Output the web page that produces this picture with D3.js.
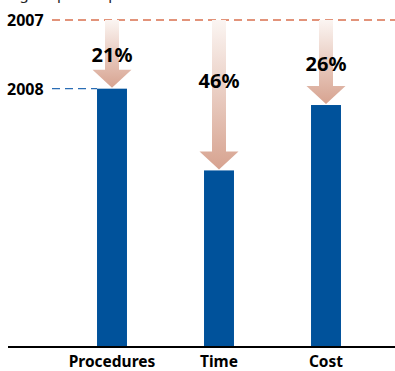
<!DOCTYPE html>
<html>
<head>
<meta charset="utf-8">
<script src="https://cdn.jsdelivr.net/npm/d3@7"></script>
<style>
  body { margin: 0; background: #fff; }
  svg { display: block; font-family: "Noto Sans", "Open Sans", sans-serif; }
</style>
</head>
<body>
<svg id="chart" width="395" height="371"></svg>
<script>
// chart values (2007 = 100)
const categories = ["Procedures", "Time", "Cost"];
const values2008 = [79, 54, 74];
const dropLabels = ["21%", "46%", "26%"];
const yearLabels = ["2007", "2008"];
const baseValue = 100;

let svg = d3.select("#chart");

let xScale = d3.scaleBand()
    .domain(categories)
    .range([58.5, 379.5])
    .paddingInner(0.72)
    .paddingOuter(0.36);

let yScale = d3.scaleLinear()
    .domain([0, baseValue])
    .range([347, 20]);

// gradient for the arrows
let defs = svg.append("defs");
let grad = defs.append("linearGradient")
    .attr("id", "arrowGrad")
    .attr("x1", 0).attr("y1", 0)
    .attr("x2", 0).attr("y2", 1);
grad.append("stop").attr("offset", "0%").attr("stop-color", "#fbf5f2");
grad.append("stop").attr("offset", "100%").attr("stop-color", "#d7a390");

// cut off title at the top
svg.append("text")
    .attr("x", 6)
    .attr("y", -1)
    .attr("font-size", 15)
    .attr("fill", "#222")
    .text("Big drop in steps and cost");

// 2007 reference line
svg.append("line")
    .attr("x1", 52).attr("x2", 395)
    .attr("y1", yScale(baseValue)).attr("y2", yScale(baseValue))
    .attr("stroke", "#d9704f")
    .attr("stroke-width", 1.3)
    .attr("stroke-dasharray", "8,5");

svg.append("text")
    .attr("x", 7)
    .attr("y", yScale(baseValue) + 6)
    .attr("font-size", 16)
    .attr("font-weight", "bold")
    .text(yearLabels[0]);

// 2008 reference (first bar)
svg.append("line")
    .attr("x1", 52).attr("x2", xScale(categories[0]))
    .attr("y1", yScale(values2008[0])).attr("y2", yScale(values2008[0]))
    .attr("stroke", "#2a6db5")
    .attr("stroke-width", 1.3)
    .attr("stroke-dasharray", "8,5");

svg.append("text")
    .attr("x", 7)
    .attr("y", yScale(values2008[0]) + 6)
    .attr("font-size", 16)
    .attr("font-weight", "bold")
    .text(yearLabels[1]);

// bars
svg.selectAll("rect.bar")
    .data(values2008)
    .enter().append("rect")
    .attr("class", "bar")
    .attr("x", (d, i) => xScale(categories[i]))
    .attr("y", d => yScale(d))
    .attr("width", xScale.bandwidth())
    .attr("height", d => yScale(0) - yScale(d))
    .attr("fill", "#00529b");

// arrows
let shaft = 7, head = 19.5, headH = 18;
svg.selectAll("path.arrow")
    .data(values2008)
    .enter().append("path")
    .attr("class", "arrow")
    .attr("fill", "url(#arrowGrad)")
    .attr("d", function(d, i) {
        let cx = xScale(categories[i]) + xScale.bandwidth() / 2;
        let top = yScale(baseValue);
        let tip = yScale(d) - 1;
        let hy = tip - headH;
        return "M" + (cx - shaft) + "," + top +
            "L" + (cx + shaft) + "," + top +
            "L" + (cx + shaft) + "," + hy +
            "L" + (cx + head) + "," + hy +
            "L" + cx + "," + tip +
            "L" + (cx - head) + "," + hy +
            "L" + (cx - shaft) + "," + hy + "Z";
    });

// drop labels
svg.selectAll("text.drop")
    .data(values2008)
    .enter().append("text")
    .attr("class", "drop")
    .attr("x", (d, i) => xScale(categories[i]) + xScale.bandwidth() / 2)
    .attr("y", function(d) {
        let top = yScale(baseValue);
        return top + Math.min((yScale(d) - top) / 2, 60) + 8;
    })
    .attr("text-anchor", "middle")
    .attr("font-size", 20)
    .attr("font-weight", "bold")
    .text((d, i) => dropLabels[i]);

// x axis
let xAxis = d3.axisBottom(xScale).tickSize(0).tickPadding(9);
let gx = svg.append("g")
    .attr("transform", "translate(0," + yScale(0) + ")")
    .call(xAxis);
gx.select(".domain").remove();
gx.selectAll("text")
    .attr("font-size", 15.5)
    .attr("font-weight", "bold")
    .attr("fill", "#000")
    .attr("font-family", "'Noto Sans', sans-serif");

svg.append("line")
    .attr("x1", 8).attr("x2", 395)
    .attr("y1", yScale(0)).attr("y2", yScale(0))
    .attr("stroke", "#000")
    .attr("stroke-width", 2);
</script>
</body>
</html>
